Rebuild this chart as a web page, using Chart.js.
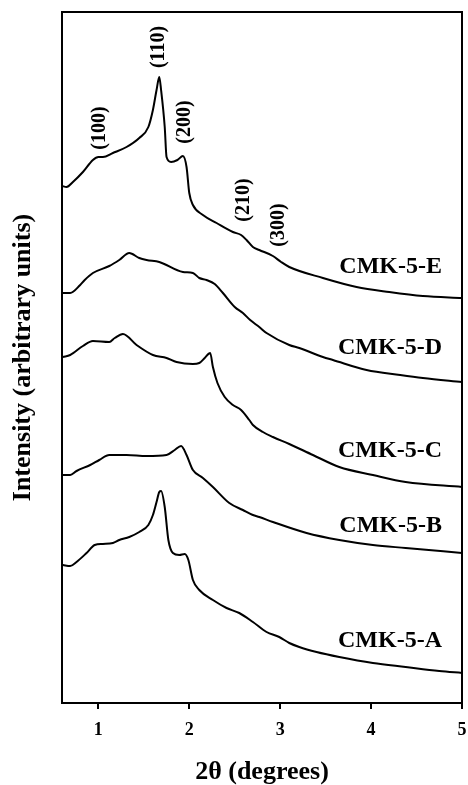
<!DOCTYPE html>
<html>
<head>
<meta charset="utf-8">
<script src="https://cdn.jsdelivr.net/npm/chart.js@4.4.0/dist/chart.umd.min.js"></script>
<style>
  html, body { margin: 0; padding: 0; background: #fff; }
  canvas { display: block; }
</style>
</head>
<body>
<canvas id="xrdChart" width="468" height="785"></canvas>
<script>
// 2-theta (degrees) vs intensity (arbitrary units), curves already offset as in the figure
const cmk5E = [[0.60,517],[0.65,516],[0.72,521],[0.83,531],[0.94,543],[1.00,546],[1.05,546],[1.16,550],[1.31,556],[1.45,565],[1.55,576],[1.60,593],[1.64,613],[1.67,626],[1.69,613],[1.73,576],[1.75,546],[1.80,541],[1.87,543],[1.93,547],[1.97,536],[2.00,510],[2.04,498],[2.15,488],[2.30,480],[2.48,471],[2.57,468],[2.63,463],[2.70,456],[2.77,453],[2.92,447],[3.01,441],[3.10,436],[3.47,425],[3.84,416],[4.20,411],[4.57,407],[5.00,405]];
const cmk5D = [[0.61,410],[0.69,410],[0.80,418],[0.85,423],[0.94,430],[1.12,437],[1.23,443],[1.34,450],[1.45,445],[1.53,443],[1.67,441],[1.93,431],[2.04,430],[2.11,425],[2.19,423],[2.28,419],[2.37,410],[2.50,396],[2.59,390],[2.67,383],[2.77,376],[2.85,370],[3.10,358],[3.21,355],[3.47,346],[3.58,343],[3.95,333],[4.32,328],[4.57,325],[5.00,321]];
const cmk5C = [[0.61,346],[0.69,348],[0.83,357],[0.94,362],[1.12,361],[1.18,365],[1.27,369],[1.42,358],[1.60,348],[1.75,345],[1.86,341],[2.04,339],[2.11,340],[2.17,345],[2.23,350],[2.26,336],[2.31,320],[2.39,306],[2.48,298],[2.57,293],[2.66,283],[2.70,278],[2.81,271],[2.92,266],[3.10,259],[3.36,248],[3.65,236],[4.02,228],[4.38,221],[5.00,216]];
const cmk5B = [[0.61,228],[0.69,228],[0.76,232],[0.91,238],[1.01,243],[1.12,248],[1.31,248],[1.53,247],[1.75,248],[1.84,253],[1.91,257],[1.97,248],[2.04,233],[2.15,225],[2.26,216],[2.44,200],[2.59,193],[2.70,188],[2.77,186],[2.92,181],[3.29,170],[3.65,163],[4.02,158],[4.38,155],[5.00,150]];
const cmk5A = [[0.61,138],[0.69,137],[0.76,141],[0.87,150],[0.96,158],[1.05,159],[1.16,160],[1.23,163],[1.34,166],[1.45,171],[1.55,178],[1.60,188],[1.64,201],[1.67,211],[1.69,212],[1.73,196],[1.77,163],[1.82,150],[1.89,148],[1.95,149],[1.99,143],[2.04,123],[2.11,113],[2.26,103],[2.41,95],[2.55,90],[2.70,81],[2.85,71],[2.99,66],[3.10,60],[3.21,56],[3.40,51],[3.65,46],[4.02,40],[4.38,36],[4.75,32],[5.00,30]];

const seriesNames = ['CMK-5-E', 'CMK-5-D', 'CMK-5-C', 'CMK-5-B', 'CMK-5-A'];
const seriesData = [cmk5E, cmk5D, cmk5C, cmk5B, cmk5A];
const xTicks = [1, 2, 3, 4, 5];

// Miller indices marked over CMK-5-E
const peakLabels = ['(100)', '(110)', '(200)', '(210)', '(300)'];
const peakAt = [[1.015, 575], [1.663, 656], [1.95, 581], [2.60, 503], [2.98, 478]];
// curve names, right aligned
const nameAt = [[4.78, 436], [4.78, 355], [4.78, 252], [4.78, 177], [4.78, 62]];

const serif = "'Liberation Serif', 'Times New Roman', serif";

const figureText = {
    id: 'figureText',
    afterDatasetsDraw(chart) {
        const {ctx, chartArea: a, scales: {x, y}} = chart;
        ctx.save();
        ctx.strokeStyle = '#000';
        ctx.lineWidth = 2;
        ctx.strokeRect(a.left, a.top, a.right - a.left, a.bottom - a.top);

        ctx.fillStyle = '#000';
        ctx.font = `bold 20px ${serif}`;
        ctx.textAlign = 'center';
        ctx.textBaseline = 'middle';
        peakLabels.forEach((t, i) => {
            ctx.save();
            ctx.translate(x.getPixelForValue(peakAt[i][0]), y.getPixelForValue(peakAt[i][1]));
            ctx.rotate(-Math.PI / 2);
            ctx.fillText(t, 0, 0);
            ctx.restore();
        });

        ctx.font = `bold 24px ${serif}`;
        ctx.textAlign = 'right';
        seriesNames.forEach((t, i) => {
            ctx.fillText(t, x.getPixelForValue(nameAt[i][0]), y.getPixelForValue(nameAt[i][1]));
        });
        ctx.restore();
    }
};

new Chart(document.getElementById('xrdChart').getContext('2d'), {
    type: 'line',
    data: {
        datasets: seriesData.map((pts, i) => ({
            label: seriesNames[i],
            data: pts.map(p => ({x: p[0], y: p[1]})),
            borderColor: '#000',
            borderWidth: 2,
            pointRadius: 0,
            cubicInterpolationMode: 'monotone',
            fill: false
        }))
    },
    options: {
        responsive: false,
        animation: false,
        events: [],
        layout: {padding: {top: 12, right: 6, left: 0, bottom: 0}},
        plugins: {legend: {display: false}, tooltip: {enabled: false}},
        scales: {
            x: {
                type: 'linear',
                min: 0.6,
                max: 5,
                afterBuildTicks: (s) => { s.ticks = xTicks.map(v => ({value: v})); },
                afterFit: (s) => { s.height = 82; s.paddingLeft = 0; s.paddingRight = 0; },
                grid: {display: true, drawOnChartArea: false, drawTicks: true, tickLength: 6, color: '#000', lineWidth: 2},
                border: {display: false},
                ticks: {color: '#000', padding: 11, font: {family: serif, size: 18, weight: 'bold'}},
                title: {
                    display: true,
                    text: '2θ (degrees)',
                    color: '#000',
                    padding: 0,
                    font: {family: serif, size: 26, weight: 'bold', lineHeight: 1}
                }
            },
            y: {
                type: 'linear',
                min: 0,
                max: 691,
                afterFit: (s) => { s.width = 62; },
                grid: {display: false},
                border: {display: false},
                ticks: {display: false},
                title: {
                    display: true,
                    text: 'Intensity (arbitrary units)',
                    color: '#000',
                    padding: {top: 10, bottom: 0},
                    font: {family: serif, size: 26, weight: 'bold', lineHeight: 1}
                }
            }
        }
    },
    plugins: [figureText]
});
</script>
</body>
</html>
